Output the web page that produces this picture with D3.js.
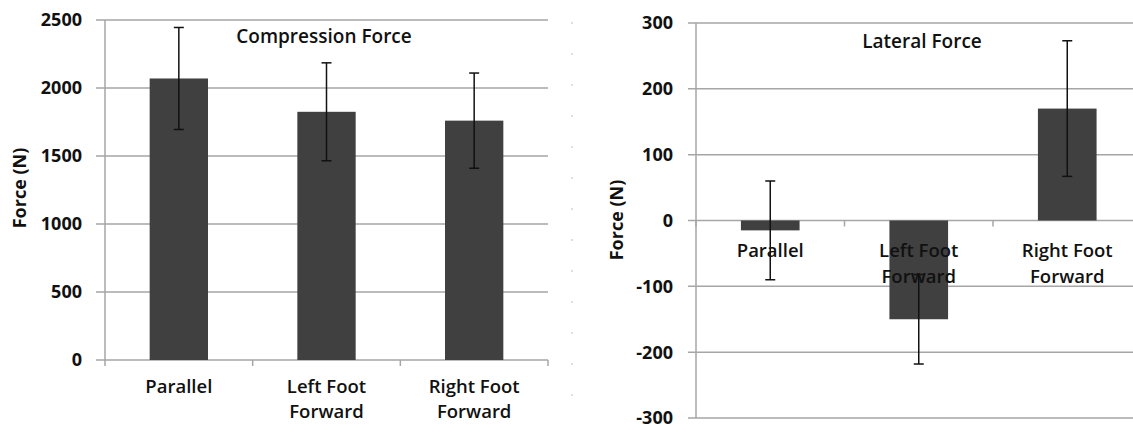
<!DOCTYPE html>
<html>
<head>
<meta charset="utf-8">
<script src="https://cdn.jsdelivr.net/npm/d3@7"></script>
<style>
  body { margin: 0; background: #fff; }
  svg { display: block; font-family: "Open Sans", sans-serif; }
  .grid line { stroke: #a6a6a6; stroke-width: 1.5; }
  .tick-label { font-size: 18px; font-weight: 700; fill: #111; }
  .cat-label { font-size: 18.5px; font-weight: 600; fill: #111; }
  .title { font-size: 19px; font-weight: 600; fill: #111; }
  .ylabel { font-size: 18px; font-weight: 700; fill: #111; }
</style>
</head>
<body>
<div id="chart"></div>
<script>
// categories shared by both panels
var categories = [["Parallel"], ["Left Foot", "Forward"], ["Right Foot", "Forward"]];

// compression force (N)
var compMean = [2070, 1825, 1760];
var compErr = [375, 360, 350];
var compTicks = [0, 500, 1000, 1500, 2000, 2500];

// lateral force (N)
var latMean = [-15, -150, 170];
var latErr = [75, 68, 103];
var latTicks = [-300, -200, -100, 0, 100, 200, 300];

var W = 1133, H = 425;
var svg = d3.select("#chart").append("svg")
	.attr("width", W)
	.attr("height", H);

// faint dashed separator between the two panels
svg.append("line")
	.attr("x1", 572).attr("x2", 572)
	.attr("y1", 22).attr("y2", H)
	.attr("stroke", "#c8c8c8")
	.attr("stroke-width", 1.2)
	.attr("stroke-dasharray", "2,29");

function panel(opts) {
	var g = svg.append("g");
	var x = d3.scaleBand().domain(d3.range(categories.length)).range(opts.xRange).padding(0);
	var y = d3.scaleLinear().domain(opts.yDomain).range(opts.yRange);
	var barW = x.bandwidth() * 0.395;
	var x0 = opts.xRange[0], x1 = opts.xRange[1];

	// gridlines + y ticks
	var grid = g.append("g").attr("class", "grid");
	grid.selectAll("line").data(opts.ticks).enter().append("line")
		.attr("x1", x0 - opts.tickLen).attr("x2", x1)
		.attr("y1", function(d){ return y(d); })
		.attr("y2", function(d){ return y(d); });

	g.selectAll(".tick-label").data(opts.ticks).enter().append("text")
		.attr("class", "tick-label")
		.attr("x", x0 - opts.labelGap)
		.attr("y", function(d){ return y(d); })
		.attr("dy", "0.36em")
		.attr("text-anchor", "end")
		.text(function(d){ return d; });

	// y axis line
	g.append("line")
		.attr("x1", x0).attr("x2", x0)
		.attr("y1", y(opts.yDomain[1])).attr("y2", y(opts.yDomain[0]))
		.attr("stroke", "#a6a6a6").attr("stroke-width", 1.5);

	// category tick marks on the zero line
	var bounds = d3.range(categories.length + 1).map(function(i){ return x0 + i * x.step(); });
	g.selectAll(".cat-tick").data(bounds).enter().append("line")
		.attr("class", "cat-tick")
		.attr("x1", function(d){ return d; }).attr("x2", function(d){ return d; })
		.attr("y1", y(0)).attr("y2", y(0) + 6)
		.attr("stroke", "#a6a6a6").attr("stroke-width", 1.5);

	// bars
	g.selectAll(".bar").data(opts.mean).enter().append("rect")
		.attr("class", "bar")
		.attr("x", function(d, i){ return x(i) + (x.bandwidth() - barW) / 2; })
		.attr("width", barW)
		.attr("y", function(d){ return y(Math.max(0, d)); })
		.attr("height", function(d){ return Math.abs(y(d) - y(0)); })
		.attr("fill", "#404040");

	// error bars
	var eb = g.selectAll(".err").data(opts.mean).enter().append("g").attr("class", "err")
		.attr("stroke", "#111").attr("stroke-width", 1.5);
	eb.append("line")
		.attr("x1", function(d, i){ return x(i) + x.bandwidth() / 2; })
		.attr("x2", function(d, i){ return x(i) + x.bandwidth() / 2; })
		.attr("y1", function(d, i){ return y(d + opts.err[i]); })
		.attr("y2", function(d, i){ return y(d - opts.err[i]); });
	[1, -1].forEach(function(s){
		eb.append("line")
			.attr("x1", function(d, i){ return x(i) + x.bandwidth() / 2 - 5; })
			.attr("x2", function(d, i){ return x(i) + x.bandwidth() / 2 + 5; })
			.attr("y1", function(d, i){ return y(d + s * opts.err[i]); })
			.attr("y2", function(d, i){ return y(d + s * opts.err[i]); });
	});

	// category labels
	g.selectAll(".cat-label").data(categories).enter().append("text")
		.attr("class", "cat-label")
		.attr("text-anchor", "middle")
		.attr("x", function(d, i){ return x(i) + x.bandwidth() / 2; })
		.attr("y", opts.catY)
		.each(function(d, i){
			var t = d3.select(this);
			var cx = x(i) + x.bandwidth() / 2;
			d.forEach(function(line, k){
				t.append("tspan").attr("x", cx).attr("dy", k === 0 ? 0 : opts.lineH).text(line);
			});
		});

	// title
	g.append("text").attr("class", "title")
		.attr("x", opts.titlePos[0]).attr("y", opts.titlePos[1])
		.attr("text-anchor", "middle")
		.text(opts.title);

	// y label
	g.append("text").attr("class", "ylabel")
		.attr("transform", "translate(" + opts.yLabelPos[0] + "," + opts.yLabelPos[1] + ") rotate(-90)")
		.attr("text-anchor", "middle")
		.text("Force (N)");
}

panel({
	xRange: [105, 548], yDomain: [0, 2500], yRange: [360, 20],
	ticks: compTicks, mean: compMean, err: compErr,
	tickLen: 9, labelGap: 23, catY: 393, lineH: 25,
	title: "Compression Force", titlePos: [324, 43],
	yLabelPos: [26, 188]
});

panel({
	xRange: [696, 696 + 3 * 148.5], yDomain: [-300, 300], yRange: [418, 23],
	ticks: latTicks, mean: latMean, err: latErr,
	tickLen: 8, labelGap: 23, catY: 257, lineH: 26,
	title: "Lateral Force", titlePos: [922, 48],
	yLabelPos: [623, 220]
});
</script>
</body>
</html>
